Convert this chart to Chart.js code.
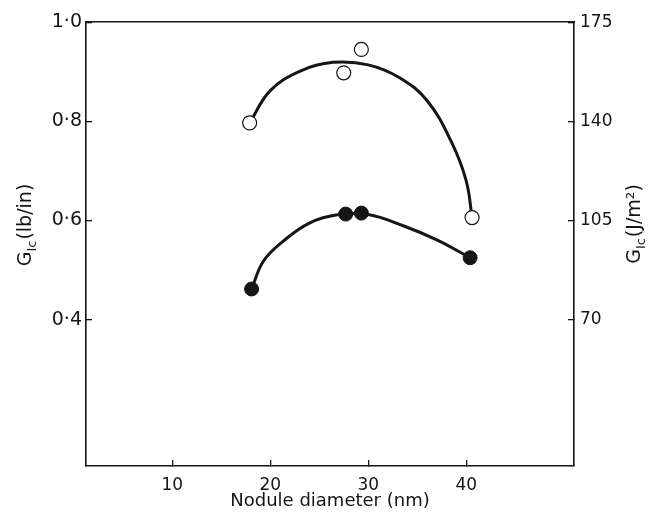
<!DOCTYPE html>
<html><head><meta charset="utf-8">
<script src="https://cdn.jsdelivr.net/npm/chart.js@4/dist/chart.umd.min.js"></script>
<style>html,body{margin:0;padding:0;background:#fff}#w{width:652px;height:521px;position:relative}</style>
</head><body><div id="w"><canvas id="c"></canvas></div>
<script>
// ---- data ----
const xTicks = [10, 20, 30, 40];
const yLeftTicks = [0.4, 0.6, 0.8, 1.0];
const yLeftLabels = ['0·4', '0·6', '0·8', '1·0'];
const yRightTicks = [70, 105, 140, 175];

const openX = [17.9, 27.5, 29.3, 40.6];
const openY = [0.797, 0.898, 0.945, 0.606];
const filledX = [18.1, 27.7, 29.3, 40.4];
const filledY = [0.462, 0.613, 0.615, 0.525];

// traced fitted curves (knots)
const openCurveX = [17.9, 20.0, 23.0, 26.4, 30.0, 33.2, 36.0, 38.5, 40.0, 40.6];
const openCurveY = [0.797, 0.862, 0.901, 0.919, 0.914, 0.888, 0.842, 0.758, 0.680, 0.606];
const filledCurveX = [18.1, 19.3, 21.3, 24.0, 27.0, 30.0, 33.5, 37.0, 40.4];
const filledCurveY = [0.462, 0.518, 0.558, 0.595, 0.612, 0.612, 0.590, 0.561, 0.525];

const xTitle = 'Nodule diameter (nm)';
const leftTitle = ['G', 'Ic', '(lb/in)'];
const rightTitle = ['G', 'Ic', '(J/m²)'];
const jPerLb = 175; // right axis = left axis × 175

const FONT = 'DejaVu Sans';
const INK = '#151515';

const pts = (xs, ys) => xs.map((x, i) => ({x: x, y: ys[i]}));

const titlePlugin = {
  id: 'sideTitles',
  afterDraw(chart) {
    const ctx = chart.ctx;
    function draw(parts, bx, cy) {
      ctx.save();
      ctx.fillStyle = INK;
      ctx.textBaseline = 'alphabetic';
      ctx.textAlign = 'left';
      const big = '19px "' + FONT + '"', small = '13px "' + FONT + '"';
      ctx.font = big; const w0 = ctx.measureText(parts[0]).width;
      ctx.font = small; const w1 = ctx.measureText(parts[1]).width;
      ctx.font = big; const w2 = ctx.measureText(parts[2]).width;
      const total = w0 + w1 + 1 + w2;
      ctx.translate(bx, cy);
      ctx.rotate(-Math.PI / 2);
      let x = -total / 2;
      ctx.font = big; ctx.fillText(parts[0], x, 0); x += w0;
      ctx.font = small; ctx.fillText(parts[1], x, 5); x += w1 + 1;
      ctx.font = big; ctx.fillText(parts[2], x, 0);
      ctx.restore();
    }
    draw(leftTitle, 31, 225);
    draw(rightTitle, 640, 224);
  }
};

const setTicks = (list) => (scale) => { scale.ticks = list.map(v => ({value: v})); };

new Chart(document.getElementById('c'), {
  type: 'scatter',
  data: {
    datasets: [
      {label: 'open', data: pts(openX, openY), order: 0, showLine: false,
       pointRadius: 7, pointHoverRadius: 7, pointBackgroundColor: '#fff', pointBorderColor: INK, pointBorderWidth: 1.2},
      {label: 'filled', data: pts(filledX, filledY), order: 0, showLine: false,
       pointRadius: 7, pointHoverRadius: 7, pointBackgroundColor: INK, pointBorderColor: INK, pointBorderWidth: 1},
      {label: 'open fit', data: pts(openCurveX, openCurveY), order: 1, showLine: true,
       pointRadius: 0, borderColor: INK, borderWidth: 3, tension: 0.4, fill: false},
      {label: 'filled fit', data: pts(filledCurveX, filledCurveY), order: 1, showLine: true,
       pointRadius: 0, borderColor: INK, borderWidth: 3, tension: 0.4, fill: false}
    ]
  },
  options: {
    responsive: true, maintainAspectRatio: false, animation: false,
    layout: {padding: 0},
    plugins: {legend: {display: false}, tooltip: {enabled: false}},
    events: [],
    scales: {
      x: {
        type: 'linear', position: 'bottom', min: 1.2, max: 51,
        afterBuildTicks: setTicks(xTicks),
        afterFit: (s) => { s.height = 55; },
        ticks: {color: INK, font: {family: FONT, size: 17}, padding: 15, maxRotation: 0,
                callback: (v) => String(v)},
        grid: {display: true, drawOnChartArea: false, drawTicks: true, tickLength: -6, color: INK, lineWidth: 1.3},
        border: {display: true, color: INK, width: 1.6},
        title: {display: true, text: xTitle, color: INK, font: {family: FONT, size: 18, lineHeight: 1.2}, padding: {top: 0, bottom: 9}}
      },
      xTop: {
        type: 'linear', position: 'top', min: 1.2, max: 51,
        afterFit: (s) => { s.height = 19; },
        ticks: {display: false},
        grid: {display: false},
        border: {display: true, color: INK, width: 1.6}
      },
      y: {
        type: 'linear', position: 'left', min: 0.105, max: 1.0,
        afterBuildTicks: setTicks(yLeftTicks),
        afterFit: (s) => { s.width = 86; },
        ticks: {color: INK, font: {family: FONT, size: 19}, padding: 10,
                callback: (v) => { const i = yLeftTicks.findIndex(t => Math.abs(t - v) < 1e-6); return i >= 0 ? yLeftLabels[i] : ''; }},
        grid: {display: true, drawOnChartArea: false, drawTicks: true, tickLength: -6, color: INK, lineWidth: 1.3},
        border: {display: true, color: INK, width: 1.6}
      },
      y2: {
        type: 'linear', position: 'right', min: 0.105 * jPerLb, max: 1.0 * jPerLb,
        afterBuildTicks: setTicks(yRightTicks),
        afterFit: (s) => { s.width = 78; },
        ticks: {color: INK, font: {family: FONT, size: 17}, padding: 12, callback: (v) => String(v)},
        grid: {display: true, drawOnChartArea: false, drawTicks: true, tickLength: -6, color: INK, lineWidth: 1.3},
        border: {display: true, color: INK, width: 1.6}
      }
    }
  },
  plugins: [titlePlugin]
});
</script>
</body></html>
